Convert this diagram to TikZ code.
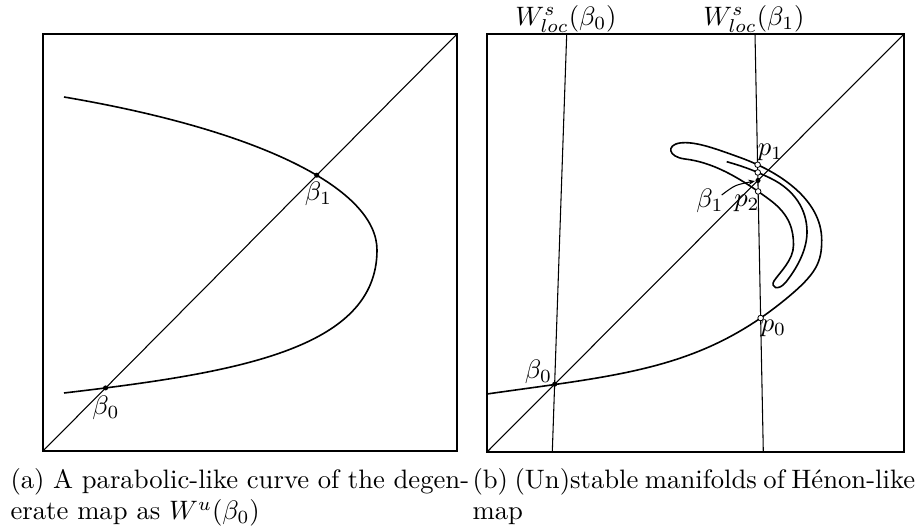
\documentclass[tikz,border=0pt]{standalone}
\usepackage{amsmath, amssymb}
\usepackage{tikz}
\usetikzlibrary{arrows.meta, intersections}

\begin{document}
\begin{tikzpicture}[x=0.375pt, y=-0.375pt,
    dot/.style={circle, fill=black, inner sep=0pt, minimum size=1.9pt},
    odot/.style={circle, draw=black, fill=white, line width=0.3pt, inner sep=0pt, minimum size=2.1pt},
    curve/.style={line width=0.6pt}]
    \useasboundingbox (0,0) rectangle (920,529);

    % (a) the degenerate map
    \draw[line width=0.5pt] (43,34) rectangle (457,451);
    \draw[name path=diagA] (43,451) -- (457,34);
    \draw[curve, name path=parA] (64,97) .. controls (264,131) and (377,190) .. (377,250)
        .. controls (377,350) and (234,373) .. (64,393);
    \path[name intersections={of=diagA and parA, sort by=diagA, by={a0,a1}}];
    \node[dot] (A0) at (a0) {};
    \node[dot] (A1) at (a1) {};
    \node (lA0) at (106,407.5) {$\beta_0$};
    \node (lA1) at (318.5,194) {$\beta_1$};

    % (b) the Henon-like map
    \draw[line width=0.5pt] (487,34) rectangle (904,452);
    \coordinate (bl) at (487,452);
    \coordinate (br) at (904,34);
    \coordinate (w0t) at (566.7,34);
    \coordinate (w0b) at (552.3,452);
    \coordinate (w1t) at (755,34);
    \coordinate (w1b) at (763.3,452);
    \draw (bl) -- (br);
    \draw (w0t) -- (w0b);
    \draw[name path=w1] (w1t) -- (w1b);
    \coordinate (b0) at (intersection of bl--br and w0t--w0b);
    \coordinate (b1) at (intersection of bl--br and w1t--w1b);
    \draw[curve, name path=unst] (487,394) .. controls (620,375) and (700,370) .. (786.7,298.3)
        .. controls (816.7,273.5) and (821.7,262) .. (821.7,240)
        .. controls (821.7,200) and (780,172) .. (740,157.5)
        .. controls (715,148.5) and (695,141) .. (680,143)
        .. controls (666,145) and (668,157) .. (685,159)
        .. controls (710,162) and (735,174) .. (770,200)
        .. controls (790,215) and (793.5,230) .. (793.5,245)
        .. controls (793.5,260) and (780,272) .. (774,281)
        .. controls (770,287) and (778,292) .. (786,282)
        .. controls (797,268) and (807,250) .. (807,232)
        .. controls (807,210) and (795,190) .. (770,178)
        .. controls (750,168.4) and (738,165) .. (726.7,161.7);
    \path[name intersections={of=w1 and unst, sort by=w1, by={p1,q1,p2,p0}}];
    \node[dot] (B0) at (b0) {};
    \node[dot] (B1) at (b1) {};
    \node[odot] (P0) at (p0) {};
    \node[odot] (P1) at (p1) {};
    \node[odot] (Q1) at (q1) {};
    \node[odot] (P2) at (p2) {};
    \node (lW0) at (566,19) {$W^{s}_{loc}(\beta_0)$};
    \node (lW1) at (754,19) {$W^{s}_{loc}(\beta_1)$};
    \node (lB0) at (538.5,371.5) {$\beta_0$};
    \node (lB1) at (710,200.5) {$\beta_1$};
    \node (lP0) at (773.5,328) {$p_0$};
    \node (lP1) at (770.5,152.5) {$p_1$};
    \node (lP2) at (747,203) {$p_2$};
    \coordinate (lB1tip) at (721.7,195);
    \draw[-{Stealth[length=2.5pt,width=2pt]}] (lB1tip) .. controls (735,185) .. (B1);

    % captions
    \node[anchor=base west, inner sep=0pt] (capa1) at (10,489) {\makebox[172pt][s]{(a) A parabolic-like curve of the degen-}};
    \node[anchor=base west, inner sep=0pt] (capa2) at (10,520) {erate map as $W^u(\beta_0)$};
    \node[anchor=base west, inner sep=0pt] (capb1) at (472,489) {\makebox[166pt][s]{(b) (Un)stable manifolds of H\'enon-like}};
    \node[anchor=base west, inner sep=0pt] (capb2) at (472,520) {map};
\end{tikzpicture}
\end{document}
